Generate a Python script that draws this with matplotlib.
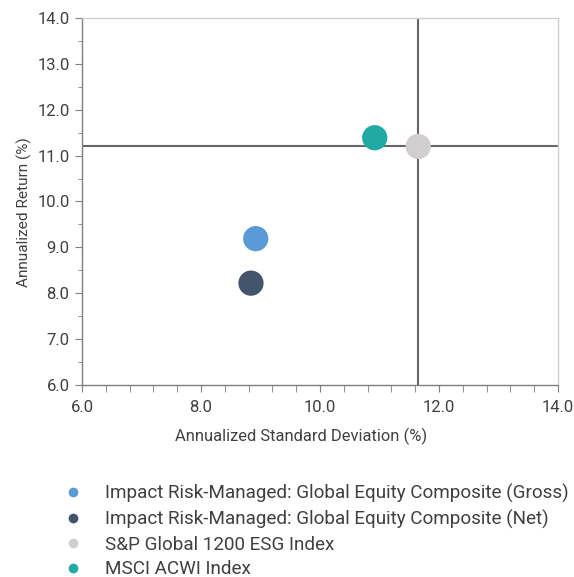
import matplotlib
matplotlib.use('Agg')
import matplotlib.pyplot as plt
from matplotlib.ticker import MultipleLocator, FormatStrFormatter
from matplotlib.lines import Line2D

# data
names = [
    "Impact Risk-Managed: Global Equity Composite (Gross)",
    "Impact Risk-Managed: Global Equity Composite (Net)",
    "S&P Global 1200 ESG Index",
    "MSCI ACWI Index",
]
std_dev = [8.92, 8.84, 11.65, 10.92]
returns = [9.19, 8.22, 11.20, 11.39]
colors = ['#5B9BD5', '#44546A', '#D0CECE', '#21A9A4']

# benchmark cross-hair (S&P Global 1200 ESG)
ref_x = 11.65
ref_y = 11.20

plt.rcParams['font.family'] = ['Roboto', 'DejaVu Sans']
text_color = '#404040'

fig = plt.figure(figsize=(5.74, 5.77), dpi=100)
ax = fig.add_axes([0.1429, 0.3328, 0.8292, 0.636])

ax.axhline(ref_y, color='#666666', linewidth=1.5, zorder=1)
ax.axvline(ref_x, color='#666666', linewidth=1.5, zorder=1)

for x, y, c in zip(std_dev, returns, colors):
    ax.scatter(x, y, s=330, color=c, edgecolors='none', zorder=3)

ax.set_xlim(6, 14)
ax.set_ylim(6, 14)
ax.xaxis.set_major_locator(MultipleLocator(2))
ax.xaxis.set_minor_locator(MultipleLocator(0.4))
ax.yaxis.set_major_locator(MultipleLocator(1))
ax.yaxis.set_minor_locator(MultipleLocator(0.5))
ax.xaxis.set_major_formatter(FormatStrFormatter('%.1f'))
ax.yaxis.set_major_formatter(FormatStrFormatter('%.1f'))

for side in ['left', 'bottom']:
    ax.spines[side].set_color('#7F7F7F')
    ax.spines[side].set_linewidth(1.0)
for side in ['top', 'right']:
    ax.spines[side].set_color('#D0D0D0')
    ax.spines[side].set_linewidth(1.0)

ax.tick_params(which='both', direction='out', color='#7F7F7F', labelcolor=text_color,
               labelsize=12)
ax.tick_params(axis='x', which='both', length=5, pad=6)
ax.tick_params(axis='y', which='major', length=5, pad=4)
ax.tick_params(axis='y', which='minor', length=3)

ax.set_xlabel('Annualized Standard Deviation (%)', fontsize=11.9, color=text_color)
ax.set_ylabel('Annualized Return (%)', fontsize=11.1, color=text_color)
ax.xaxis.set_label_coords(0.46, -0.117)
ax.yaxis.set_label_coords(-0.106, 0.471)

handles = [Line2D([], [], marker='o', linestyle='none', markersize=7,
                  markerfacecolor=c, markeredgecolor='none') for c in colors]
leg = fig.legend(handles, names, loc='upper left', bbox_to_anchor=(0.097, 0.175),
                 frameon=False, fontsize=13.6, handletextpad=1.2, labelspacing=0.36,
                 borderaxespad=0, handlelength=1.0)
for t in leg.get_texts():
    t.set_color(text_color)

fig.savefig('out.png', dpi=100)
